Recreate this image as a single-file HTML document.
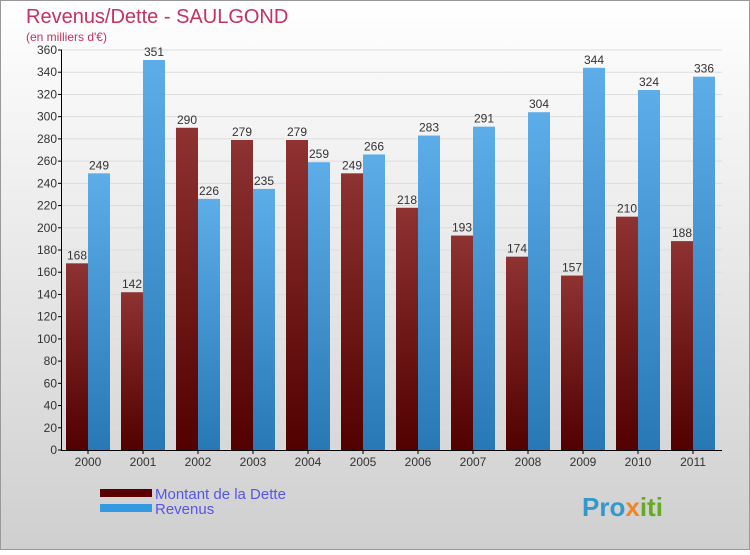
<!DOCTYPE html>
<html><head><meta charset="utf-8"><style>
body{margin:0;width:750px;height:550px;overflow:hidden;font-family:"Liberation Sans",sans-serif}
</style></head><body>
<svg width="750" height="550" xmlns="http://www.w3.org/2000/svg">
<defs>
<linearGradient id="bg" x1="0" y1="0" x2="0" y2="1"><stop offset="0" stop-color="#ffffff"/><stop offset="1" stop-color="#cfcfcf"/></linearGradient>
<linearGradient id="gd" x1="0" y1="0" x2="0" y2="1"><stop offset="0" stop-color="#8e3232"/><stop offset="1" stop-color="#520000"/></linearGradient>
<linearGradient id="gr" x1="0" y1="0" x2="0" y2="1"><stop offset="0" stop-color="#5cade8"/><stop offset="1" stop-color="#2878b6"/></linearGradient>
</defs>
<rect x="0.5" y="0.5" width="749" height="549" fill="url(#bg)" stroke="#999"/>
<text x="26" y="23" font-size="20" fill="#c8305e">Revenus/Dette - SAULGOND</text>
<text x="26" y="41" font-size="12" fill="#c8305e">(en milliers d'€)</text>
<g id="plot"></g>
<rect x="100" y="489" width="52" height="8" fill="#5a0000"/>
<rect x="100" y="504" width="52" height="8" fill="#3399e0"/>
<text x="155" y="499" font-size="15" fill="#5555ee">Montant de la Dette</text>
<text x="155" y="514" font-size="15" fill="#5555ee">Revenus</text>
<text x="582" y="516" font-size="26" font-weight="bold" fill="#3399cc">Pro<tspan fill="#ee8822">x</tspan><tspan fill="#66aa22">iti</tspan></text>
</svg>
<script>
const years=["2000","2001","2002","2003","2004","2005","2006","2007","2008","2009","2010","2011"];
const dette=[168,142,290,279,279,249,218,193,174,157,210,188];
const revenus=[249,351,226,235,259,266,283,291,304,344,324,336];
const ticks=[0,20,40,60,80,100,120,140,160,180,200,220,240,260,280,300,320,340,360];
const NS="http://www.w3.org/2000/svg";
const g=document.getElementById('plot');
const x0=62,x1=722,y0=450,y1=50,maxV=360;
const y=v=>y0-(v/maxV)*(y0-y1);
const gw=(x1-x0)/years.length;
function mk(t,a){const e=document.createElementNS(NS,t);for(const k in a)e.setAttribute(k,a[k]);g.appendChild(e);return e;}
ticks.forEach(t=>{
 const l=mk('line',{x1:x0,x2:x1,y1:y(t),y2:y(t),stroke:'#dddddd','stroke-width':1});
 
 
 const tk=mk('line',{x1:x0-4,x2:x0,y1:y(t),y2:y(t),stroke:'#000'});
 
 
 const tx=mk('text',{x:x0-5,y:y(t)+4,'font-size':12,'text-anchor':'end',fill:'#333'});
 tx.textContent=t;
 
 
});
years.forEach((yr,i)=>{
 const gx=x0+i*gw;
 const bw=22;
 const d=mk('rect',{x:gx+4,y:y(dette[i]),width:bw,height:y0-y(dette[i]),fill:'url(#gd)'});
 
 
 const r=mk('rect',{x:gx+4+bw,y:y(revenus[i]),width:bw,height:y0-y(revenus[i]),fill:'url(#gr)'});
 
 
 const dl=mk('text',{x:gx+4+bw/2,y:y(dette[i])-4,'font-size':12,'text-anchor':'middle',fill:'#333'});
 dl.textContent=dette[i];
 
 
 const rl=mk('text',{x:gx+4+bw*1.5,y:y(revenus[i])-4,'font-size':12,'text-anchor':'middle',fill:'#333'});
 rl.textContent=revenus[i];
 
 
 const xt=mk('line',{x1:gx+4+bw,x2:gx+4+bw,y1:y0,y2:y0+4,stroke:'#000'});
 
 
 const xl=mk('text',{x:gx+4+bw,y:y0+16,'font-size':12,'text-anchor':'middle',fill:'#333'});
 xl.textContent=yr;
 
 
});
const ya=mk('line',{x1:x0-0.5,x2:x0-0.5,y1:y1,y2:y0,stroke:'#000'});


const xa=mk('line',{x1:x0-1,x2:x1,y1:y0+0.5,y2:y0+0.5,stroke:'#000'});


</script>
</body></html>
